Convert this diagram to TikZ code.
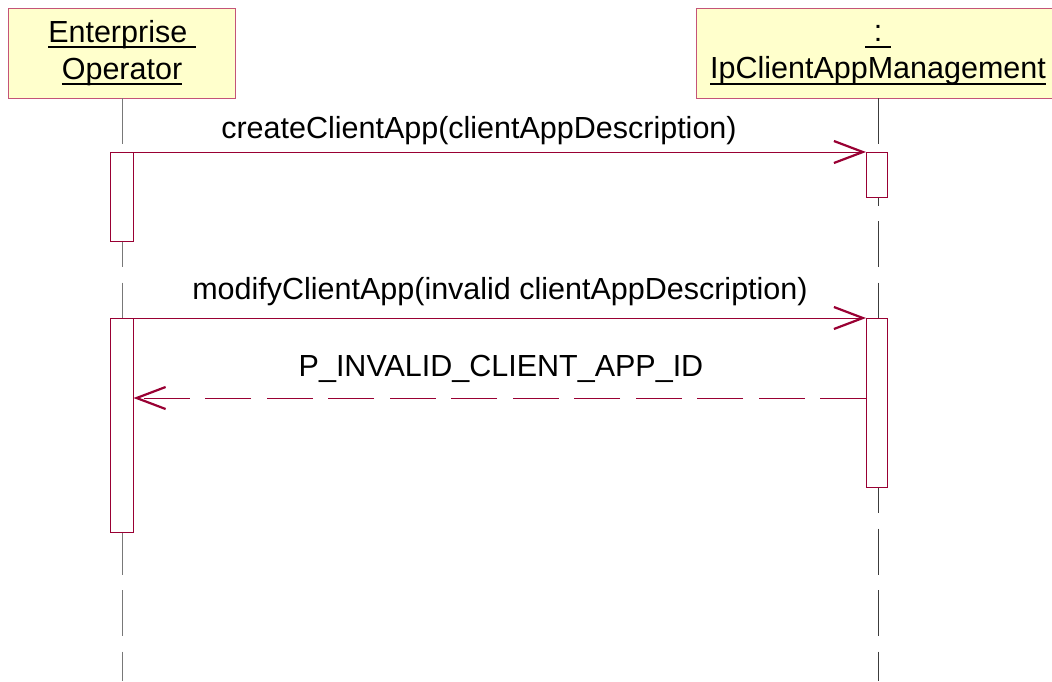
\documentclass[tikz,border=0pt]{standalone}
\usepackage{fontspec}
\setmainfont{Liberation Sans}
\usetikzlibrary{arrows.meta}
\definecolor{boxfill}{HTML}{FFFFCC}
\definecolor{boxline}{RGB}{196,84,120}
\definecolor{umlred}{RGB}{153,0,51}
\definecolor{lifegrayL}{RGB}{120,120,120}
\definecolor{lifegrayR}{RGB}{60,60,60}
\newcommand\myul[1]{\setbox0\hbox{#1}\rlap{\rule[-6pt]{\wd0}{2pt}}\box0}
\begin{document}
\begin{tikzpicture}[x=1pt,y=-1pt,
  header/.style={draw=boxline, fill=boxfill, line width=1pt, align=center,
    font=\fontsize{30.5}{37}\selectfont, inner sep=0pt, minimum height=90pt},
  activation/.style={draw=umlred, fill=white, line width=1pt, inner sep=0pt, anchor=north},
  lifeline/.style={line width=1.1pt, dash pattern=on 46pt off 15.5pt},
  msg/.style={draw=umlred, line width=1pt,
    -{Straight Barb[length=29pt,width=22pt,line width=2.2pt]}},
  reply/.style={msg, dash pattern=on 46pt off 15.5pt},
  lbl/.style={font=\fontsize{30.5}{37}\selectfont, anchor=base, inner sep=0pt}]
\useasboundingbox (0,0) rectangle (1052,681);
% headers
\node[header, minimum width=227pt] (eo) at (122,53)
  {\myul{Enterprise~}\\\myul{Operator}};
\node[header, minimum width=364pt] (cam) at (878,53)
  {\vphantom{E}\myul{~:~}\\\myul{IpClientAppManagement}};
% lifelines
\coordinate (eoTop) at (122.5,98);
\coordinate (camTop) at (878.5,98);
\coordinate (eoEnd) at (122.5,681);
\coordinate (camEnd) at (878.5,681);
\draw[lifeline, lifegrayL] (eoTop) -- (eoEnd);
\draw[lifeline, lifegrayR] (camTop) -- (camEnd);
% activations
\node[activation, minimum width=23pt, minimum height=89pt] (a1) at (121.5,152) {};
\node[activation, minimum width=23pt, minimum height=214pt] (a2) at (121.5,318) {};
\node[activation, minimum width=21pt, minimum height=45pt] (r1) at (877,152) {};
\node[activation, minimum width=21pt, minimum height=169pt] (r2) at (877,318) {};
% messages
\draw[msg] (a1.north east) -- (r1.north west);
\draw[msg] (a2.north east) -- (r2.north west);
\coordinate (rs) at ([yshift=-80pt]r2.north west);
\coordinate (re) at ([yshift=-80pt]a2.north east);
\draw[reply] (rs) -- (re);
% labels
\node[lbl] (m1) at (479,138) {createClientApp(clientAppDescription)};
\node[lbl] (m2) at (500,299) {modifyClientApp(invalid clientAppDescription)};
\node[lbl] (m3) at (501,376.5) {P\_INVALID\_CLIENT\_APP\_ID};
\end{tikzpicture}
\end{document}
